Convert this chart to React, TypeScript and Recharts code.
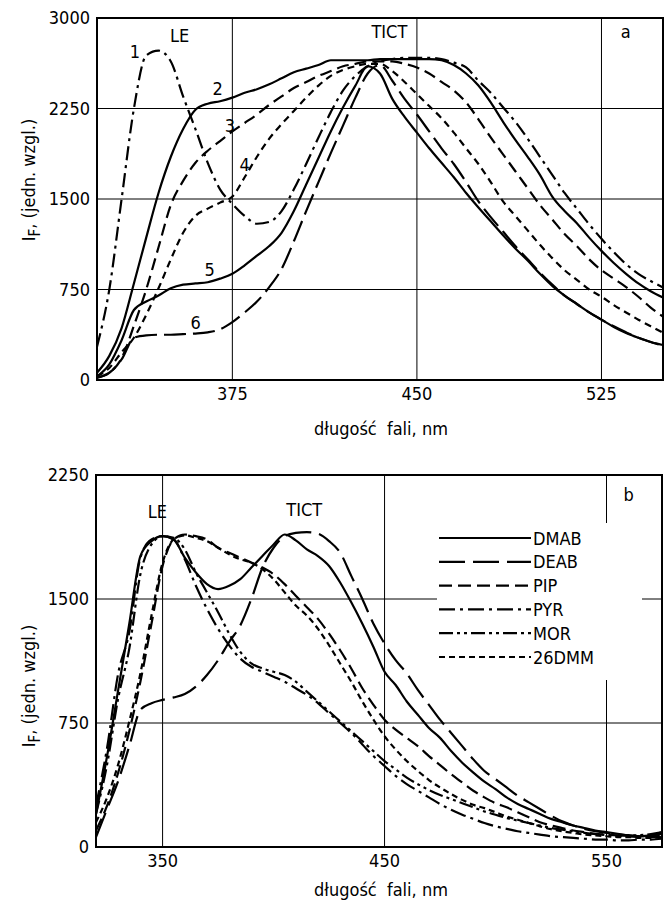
import React from 'react';
import { LineChart, Line, XAxis, YAxis, CartesianGrid, ReferenceArea, ReferenceDot } from 'recharts';

const FONT = '"DejaVu Sans Condensed", "DejaVu Sans", sans-serif';

// ---- panel a ----
const wavelengthsA = [
    320, 325, 330, 335, 340, 345, 350, 355, 360, 365,
    370, 375, 380, 385, 390, 395, 400, 405, 410, 415,
    420, 425, 430, 435, 440, 445, 450, 455, 460, 465,
    470, 475, 480, 485, 490, 495, 500, 505, 510, 515,
    520, 525, 530, 535, 540, 545, 550
];
const curve1 = [
    275, 750, 1500, 2250, 2690, 2730, 2640, 2350, 2080, 1800,
    1580, 1460, 1360, 1295, 1310, 1400, 1580, 1790, 2010, 2220,
    2400, 2520, 2600, 2640, 2660, 2670, 2670, 2670, 2660, 2630,
    2590, 2480, 2380, 2260, 2140, 2000, 1850, 1700, 1550, 1420,
    1290, 1170, 1060, 960, 880, 820, 767
];
const curve2 = [
    60, 200, 430, 800, 1180, 1550, 1850, 2080, 2240, 2290,
    2310, 2340, 2380, 2410, 2450, 2500, 2550, 2580, 2610, 2650,
    2650, 2650, 2650, 2660, 2660, 2660, 2660, 2660, 2650, 2610,
    2540, 2440, 2300, 2140, 1990, 1850, 1700, 1520, 1400, 1300,
    1180, 1070, 970, 880, 800, 735, 683
];
const curve3 = [
    20, 60, 180, 450, 750, 1100, 1450, 1650, 1800, 1900,
    1980, 2060, 2130, 2200, 2280, 2350, 2420, 2470, 2520, 2560,
    2600, 2620, 2640, 2640, 2640, 2620, 2590, 2540, 2470, 2400,
    2300, 2160, 2010, 1870, 1730, 1590, 1450, 1330, 1210, 1110,
    1000, 910, 840, 770, 690, 600, 525
];
const curve4 = [
    30, 100, 230, 350, 540, 760, 1000, 1220, 1360, 1420,
    1470, 1520, 1680, 1850, 2000, 2120, 2230, 2340, 2440, 2520,
    2570, 2600, 2620, 2620, 2560, 2470, 2370, 2270, 2170, 2050,
    1920, 1790, 1640, 1480, 1360, 1240, 1120, 1010, 910, 830,
    750, 690, 620, 560, 500, 445, 392
];
const curve5 = [
    30, 130, 330, 580, 650, 700, 760, 790, 800, 810,
    840, 880, 950, 1030, 1110, 1220, 1400, 1620, 1840, 2060,
    2260, 2440, 2600, 2540, 2330, 2180, 2050, 1920, 1800, 1680,
    1550, 1430, 1315, 1200, 1090, 990, 880, 780, 700, 630,
    560, 500, 440, 390, 350, 315, 290
];
const curve6 = [
    20, 60, 170, 350, 370, 375, 375, 380, 385, 395,
    420, 480, 560, 650, 770, 920, 1150, 1400, 1640, 1880,
    2110, 2340, 2540, 2610, 2480, 2330, 2200, 2060, 1920, 1790,
    1640, 1480, 1350, 1230, 1110, 1000, 890, 790, 700, 630,
    560, 500, 445, 395, 350, 315, 285
];
const xTicksA = [375, 450, 525];
const yTicksA = [0, 750, 1500, 2250, 3000];

// ---- panel b ----
const wavelengthsB = [
    320, 325, 330, 335, 340, 345, 350, 355, 360, 365,
    370, 375, 380, 385, 390, 395, 400, 405, 410, 415,
    420, 425, 430, 435, 440, 445, 450, 455, 460, 465,
    470, 475, 480, 485, 490, 495, 500, 505, 510, 515,
    520, 525, 530, 535, 540, 545, 550, 555, 560, 565,
    570, 575
];
const dmab = [
    200, 550, 950, 1350, 1760, 1850, 1880, 1860, 1750, 1660,
    1590, 1560, 1580, 1620, 1690, 1760, 1830, 1890, 1855, 1800,
    1760, 1700, 1600, 1480, 1350, 1210, 1060, 980, 880, 800,
    720, 660, 580, 510, 450, 395, 350, 300, 260, 230,
    200, 170, 150, 130, 115, 100, 90, 80, 70, 65,
    70, 90
];
const deab = [
    60, 230, 400, 610, 830, 870, 890, 905, 925, 970,
    1040, 1130, 1240, 1340, 1500, 1690, 1810, 1880, 1900, 1905,
    1895, 1850, 1780, 1640, 1500, 1350, 1230, 1130, 1050, 950,
    860, 770, 690, 610, 530, 460, 410, 360, 310, 270,
    230, 190, 155, 130, 110, 95, 85, 75, 70, 65,
    70, 80
];
const pip = [
    100, 250, 450, 700, 1000, 1350, 1700, 1860, 1890, 1880,
    1860, 1810, 1780, 1750, 1720, 1690, 1650, 1590, 1520, 1450,
    1380, 1290, 1190, 1080, 960, 860, 770, 710, 660, 610,
    550, 495, 440, 390, 340, 300, 265, 240, 210, 180,
    150, 130, 115, 100, 90, 80, 75, 70, 65, 60,
    60, 70
];
const pyr = [
    250, 600, 1050, 1300, 1750, 1860, 1880, 1860, 1740, 1580,
    1440, 1320, 1220, 1140, 1090, 1060, 1030, 1000, 960, 920,
    870, 810, 750, 690, 620, 550, 490, 430, 380, 340,
    300, 260, 225, 195, 170, 145, 125, 110, 95, 85,
    75, 65, 60, 55, 50, 45, 45, 40, 40, 45,
    45, 50
];
const mor = [
    200, 500, 900, 1200, 1650, 1830, 1880, 1870, 1800, 1660,
    1540, 1420, 1290, 1180, 1110, 1080, 1060, 1040, 1000, 940,
    880, 820, 760, 700, 640, 580, 520, 470, 420, 380,
    345, 315, 290, 265, 240, 215, 195, 175, 160, 145,
    130, 115, 105, 95, 85, 78, 72, 68, 70, 72,
    78, 90
];
const dmm26 = [
    150, 300, 500, 760, 1050, 1400, 1720, 1860, 1885, 1870,
    1850, 1810, 1770, 1740, 1720, 1680, 1620, 1540, 1460, 1400,
    1320, 1220, 1110, 1000, 880, 770, 670, 590, 520, 460,
    405, 360, 320, 285, 255, 235, 210, 185, 165, 145,
    125, 108, 95, 85, 75, 70, 65, 60, 60, 55,
    55, 60
];
const xTicksB = [350, 450, 550];
const yTicksB = [0, 750, 1500, 2250];

const rowsA = wavelengthsA.map((w, i) => ({
    w, c1: curve1[i], c2: curve2[i], c3: curve3[i], c4: curve4[i], c5: curve5[i], c6: curve6[i]
}));
const rowsB = wavelengthsB.map((w, i) => ({
    w, DMAB: dmab[i], DEAB: deab[i], PIP: pip[i], PYR: pyr[i], MOR: mor[i], '26DMM': dmm26[i]
}));

const seriesA = [
    { key: 'c1', dash: '14 5 3 5' },
    { key: 'c2', dash: undefined },
    { key: 'c3', dash: '12 6' },
    { key: 'c4', dash: '7 5' },
    { key: 'c5', dash: undefined },
    { key: 'c6', dash: '22 7' },
];
const seriesB = [
    { key: 'DMAB', dash: undefined },
    { key: 'DEAB', dash: '26 8' },
    { key: 'PIP', dash: '13 6' },
    { key: 'PYR', dash: '16 5 3 5' },
    { key: 'MOR', dash: '14 4 3 4 3 4' },
    { key: '26DMM', dash: '6 4' },
];

// text annotations, placed in data coordinates
const notesA = [
    { x: 353.6, y: 2858, text: 'LE' },
    { x: 438.8, y: 2892, text: 'TICT' },
    { x: 534.8, y: 2892, text: 'a' },
    { x: 335.4, y: 2725, text: '1' },
    { x: 369, y: 2417, text: '2' },
    { x: 374, y: 2108, text: '3' },
    { x: 380, y: 1783, text: '4' },
    { x: 365.8, y: 917, text: '5' },
    { x: 360.1, y: 475, text: '6' },
];
const notesB = [
    { x: 347.7, y: 2027, text: 'LE' },
    { x: 413.8, y: 2039, text: 'TICT' },
    { x: 560, y: 2130, text: 'b' },
];

const tickStyle = { fill: '#000', fontSize: 18, fontFamily: FONT };

const noteShape = (text: string) => (p: any) => (
    <text x={p.cx} y={p.cy} textAnchor="middle" dominantBaseline="central"
        fontSize={18} fontFamily={FONT} fill="#000">{text}</text>
);

const YTitle = ({ cy }: { cy: number }) => (
    <text x={35} y={cy} transform={`rotate(-90, 35, ${cy})`} textAnchor="middle"
        fontSize={18} fontFamily={FONT} fill="#000">
        I<tspan fontSize={15} dy={5}>F</tspan><tspan dy={-5}>, (jedn. wzgl.)</tspan>
    </text>
);

const XTitle = ({ y }: { y: number }) => (
    <text x={381} y={y} textAnchor="middle" fontSize={18} fontFamily={FONT} fill="#000"
        style={{ whiteSpace: 'pre' }}>
        długość  fali, nm
    </text>
);

function PanelA() {
    return (
        <LineChart width={672} height={450} data={rowsA} margin={{ top: 18, right: 9, bottom: 0, left: 37 }}>
            <CartesianGrid stroke="#000" strokeWidth={1} />
            <XAxis dataKey="w" type="number" domain={[320, 550]} ticks={xTicksA} allowDataOverflow
                tickLine={false} axisLine={false} tickSize={5} tickMargin={2} height={70} tick={tickStyle}
                label={{ content: () => <XTitle y={435} /> }} />
            <YAxis type="number" domain={[0, 3000]} ticks={yTicksA} allowDataOverflow
                tickLine={false} axisLine={false} tickSize={5} tickMargin={2} width={60} tick={tickStyle}
                label={{ content: () => <YTitle cy={180} /> }} />
            <ReferenceArea x1={320} x2={550} y1={0} y2={3000} fill="none" stroke="#000" strokeWidth={2} />
            {seriesA.map((s) => (
                <Line key={s.key} dataKey={s.key} type="monotone" stroke="#000" strokeWidth={2.2}
                    strokeDasharray={s.dash} dot={false} isAnimationActive={false} />
            ))}
            {notesA.map((n) => (
                <ReferenceDot key={n.text} x={n.x} y={n.y} r={0} shape={noteShape(n.text)} />
            ))}
        </LineChart>
    );
}

function PanelB() {
    return (
        <LineChart width={672} height={454} data={rowsB} margin={{ top: 25, right: 10, bottom: 0, left: 36 }}>
            <CartesianGrid stroke="#000" strokeWidth={1} />
            <XAxis dataKey="w" type="number" domain={[320, 575]} ticks={xTicksB} allowDataOverflow
                tickLine={false} axisLine={false} tickSize={5} tickMargin={2} height={57} tick={tickStyle}
                label={{ content: () => <XTitle y={446} /> }} />
            <YAxis type="number" domain={[0, 2250]} ticks={yTicksB} allowDataOverflow
                tickLine={false} axisLine={false} tickSize={5} tickMargin={2} width={60} tick={tickStyle}
                label={{ content: () => <YTitle cy={236} /> }} />
            <ReferenceArea x1={320} x2={575} y1={0} y2={2250} fill="none" stroke="#000" strokeWidth={2} />
            {seriesB.map((s) => (
                <Line key={s.key} dataKey={s.key} name={s.key} type="monotone" stroke="#000" strokeWidth={2.2}
                    strokeDasharray={s.dash} dot={false} isAnimationActive={false} />
            ))}
            {notesB.map((n) => (
                <ReferenceDot key={n.text} x={n.x} y={n.y} r={0} shape={noteShape(n.text)} />
            ))}
        </LineChart>
    );
}

function LegendB() {
    return (
        <div style={{ position: 'absolute', left: 437, top: 523, width: 205, height: 157, background: '#fff' }}>
            <svg width={205} height={157}>
                {seriesB.map((s, i) => (
                    <g key={s.key} transform={`translate(0, ${15 + i * 23.8})`}>
                        <line x1={2} x2={94} y1={0} y2={0} stroke="#000" strokeWidth={2.2} strokeDasharray={s.dash} />
                        <text x={96} y={0} dominantBaseline="central" fontSize={18} fontFamily={FONT} fill="#000">{s.key}</text>
                    </g>
                ))}
            </svg>
        </div>
    );
}

export default function App() {
    return (
        <div style={{ position: 'absolute', left: 0, top: 0, width: 672, height: 904, background: '#fff' }}>
            <div style={{ position: 'absolute', left: 0, top: 0 }}>
                <PanelA />
            </div>
            <div style={{ position: 'absolute', left: 0, top: 450 }}>
                <PanelB />
            </div>
            <LegendB />
        </div>
    );
}
